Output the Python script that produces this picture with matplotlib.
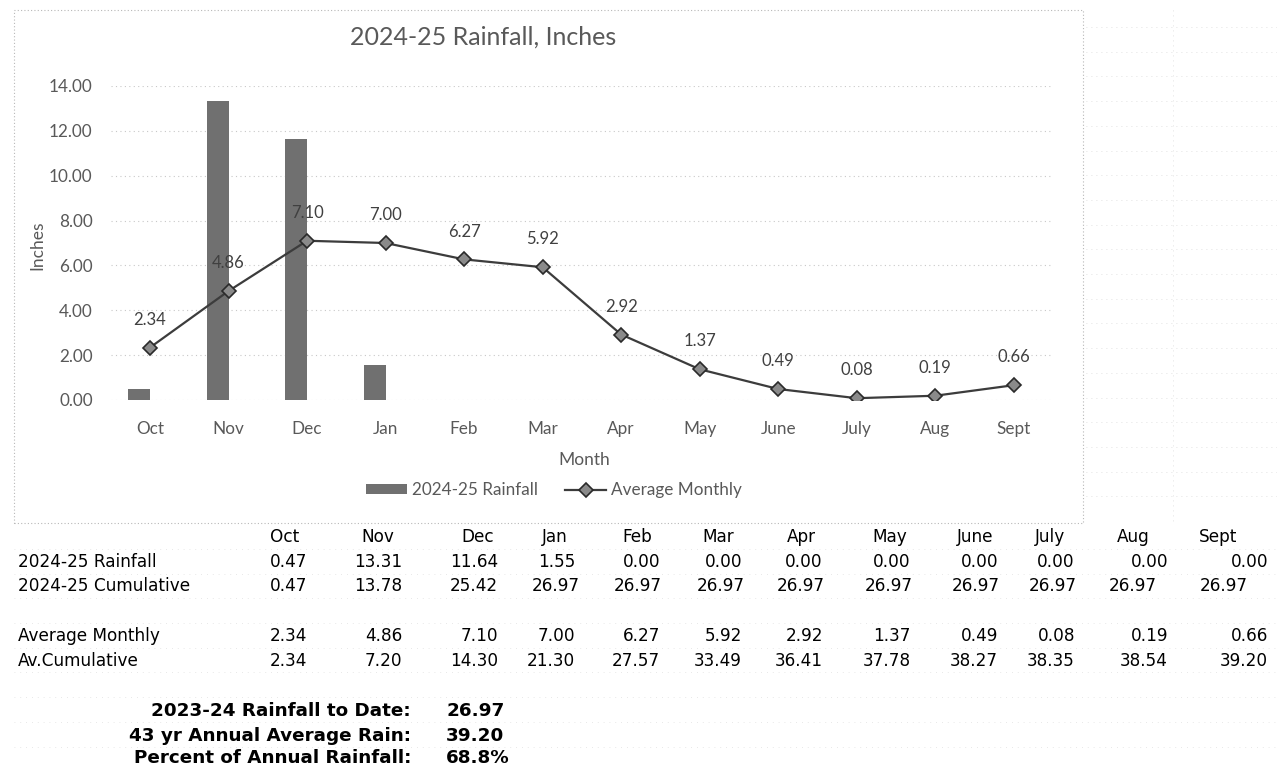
import matplotlib
matplotlib.use('Agg')
import matplotlib.pyplot as plt
from matplotlib.patches import Rectangle
from matplotlib.lines import Line2D
import numpy as np

months = ['Oct', 'Nov', 'Dec', 'Jan', 'Feb', 'Mar', 'Apr', 'May', 'June', 'July', 'Aug', 'Sept']
rain_2425 = [0.47, 13.31, 11.64, 1.55, 0.00, 0.00, 0.00, 0.00, 0.00, 0.00, 0.00, 0.00]
cum_2425 = [0.47, 13.78, 25.42, 26.97, 26.97, 26.97, 26.97, 26.97, 26.97, 26.97, 26.97, 26.97]
avg_monthly = [2.34, 4.86, 7.10, 7.00, 6.27, 5.92, 2.92, 1.37, 0.49, 0.08, 0.19, 0.66]
avg_cum = [2.34, 7.20, 14.30, 21.30, 27.57, 33.49, 36.41, 37.78, 38.27, 38.35, 38.54, 39.20]

summary_labels = ['2023-24 Rainfall to Date:', '43 yr Annual Average Rain:', 'Percent of Annual Rainfall:']
summary_values = ['26.97', '39.20', '68.8%']

W, H = 1277, 772

def fx(x):
    return x / W

def fy(y):
    return 1 - y / H

fig = plt.figure(figsize=(W / 100, H / 100), dpi=100)
fig.patch.set_facecolor('white')

# faint spreadsheet cell grid on the right of the chart
for y in np.arange(27, 520, 24.7):
    fig.add_artist(Line2D([fx(1086), fx(1277)], [fy(y), fy(y)], color='#d8d8d8', lw=0.6, ls=(0, (1, 5))))
for x in [1173]:
    fig.add_artist(Line2D([fx(x), fx(x)], [fy(10), fy(523)], color='#d8d8d8', lw=0.6, ls=(0, (1, 5))))
# faint grid under the table
for y in [549, 574, 598, 623, 648, 672, 697, 722, 747]:
    fig.add_artist(Line2D([fx(14), fx(1277)], [fy(y), fy(y)], color='#e0e0e0', lw=0.6, ls=(0, (1, 6))))

# chart area border
fig.add_artist(Rectangle((fx(14), fy(523)), fx(1083) - fx(14), fy(10) - fy(523),
                         fill=False, ec='#b8b8b8', lw=0.8, ls=(0, (1, 2))))

chart_font = 'Lato'
gray = '#595959'

ax = fig.add_axes([fx(110.75), fy(400), (1053 - 110.75) / W, (400 - 86) / H])
x = np.arange(len(months))
bars = ax.bar(x - 0.14, rain_2425, width=0.28, color='#707070', label='2024-25 Rainfall', zorder=2)
line, = ax.plot(x, avg_monthly, color='#3c3c3c', lw=1.6, marker='D', markersize=7.5,
                markerfacecolor='#8a8a8a', markeredgecolor='#2a2a2a', markeredgewidth=1.2,
                label='Average Monthly', zorder=3)
for i, v in enumerate(avg_monthly):
    ax.annotate(f'{v:.2f}', (i, v), xytext=(0, 20), textcoords='offset points',
                ha='center', va='center', fontsize=12, color='#404040', family=chart_font, zorder=4)

ax.set_xlim(-0.5, len(months) - 0.5)
ax.set_ylim(0, 14)
ax.set_yticks(np.arange(0, 15, 2))
ax.set_yticklabels([f'{t:.2f}' for t in np.arange(0, 15, 2)])
ax.set_xticks(x)
ax.set_xticklabels(months)
ax.yaxis.grid(True, color='#c8c8c8', ls=(0, (1, 3)), lw=0.8, zorder=0)
ax.set_axisbelow(True)
for s in ax.spines.values():
    s.set_visible(False)
ax.tick_params(axis='both', length=0, labelsize=12.3, labelcolor=gray)
ax.tick_params(axis='y', pad=13)
ax.tick_params(axis='x', pad=15)
for lab in ax.get_xticklabels() + ax.get_yticklabels():
    lab.set_family(chart_font)

fig.text(fx(483), fy(37), '2024-25 Rainfall, Inches', ha='center', va='center',
         fontsize=18, color=gray, family=chart_font)
fig.text(fx(37), fy(245), 'Inches', rotation=90, ha='center', va='center',
         fontsize=12.5, color=gray, family=chart_font)
fig.text(fx(584), fy(460), 'Month', ha='center', va='center',
         fontsize=12.5, color=gray, family=chart_font)

leg = fig.legend([bars, line], ['2024-25 Rainfall', 'Average Monthly'],
                 loc='center', bbox_to_anchor=(fx(554), fy(490)), ncol=2, frameon=False,
                 prop={'family': chart_font, 'size': 12.3}, handlelength=2.4, handleheight=0.45,
                 columnspacing=1.6, handletextpad=0.3)
for t in leg.get_texts():
    t.set_color(gray)

# table below the chart
tfont = 'DejaVu Sans'
tsize = 12.2
head_x = [285, 378, 478, 555, 637, 718, 801, 890, 975, 1050, 1133, 1218]
right_x = [307, 402, 498, 575, 660, 742, 823, 911, 998, 1075, 1168, 1268]
right_x_cum = [307, 402, 498, 580, 662, 745, 825, 913, 1000, 1077, 1157, 1248]

for m, hx in zip(months, head_x):
    fig.text(fx(hx), fy(537), m, ha='center', va='center', fontsize=tsize, family=tfont)

rows = [
    ('2024-25 Rainfall', rain_2425, 562, right_x),
    ('2024-25 Cumulative', cum_2425, 586, right_x_cum),
    ('Average Monthly', avg_monthly, 636, right_x),
    ('Av.Cumulative', avg_cum, 661, right_x),
]
for label, vals, ry, rx in rows:
    fig.text(fx(18), fy(ry), label, ha='left', va='center', fontsize=tsize, family=tfont)
    for v, xx in zip(vals, rx):
        fig.text(fx(xx), fy(ry), f'{v:.2f}', ha='right', va='center', fontsize=tsize, family=tfont)

for lab, val, sy in zip(summary_labels, summary_values, [711, 736, 758]):
    fig.text(fx(411), fy(sy), lab, ha='right', va='center', fontsize=13.2, family=tfont, weight='bold')
    fig.text(fx(446), fy(sy), val, ha='left', va='center', fontsize=13.2, family=tfont, weight='bold')

fig.savefig('out.png', dpi=100)
